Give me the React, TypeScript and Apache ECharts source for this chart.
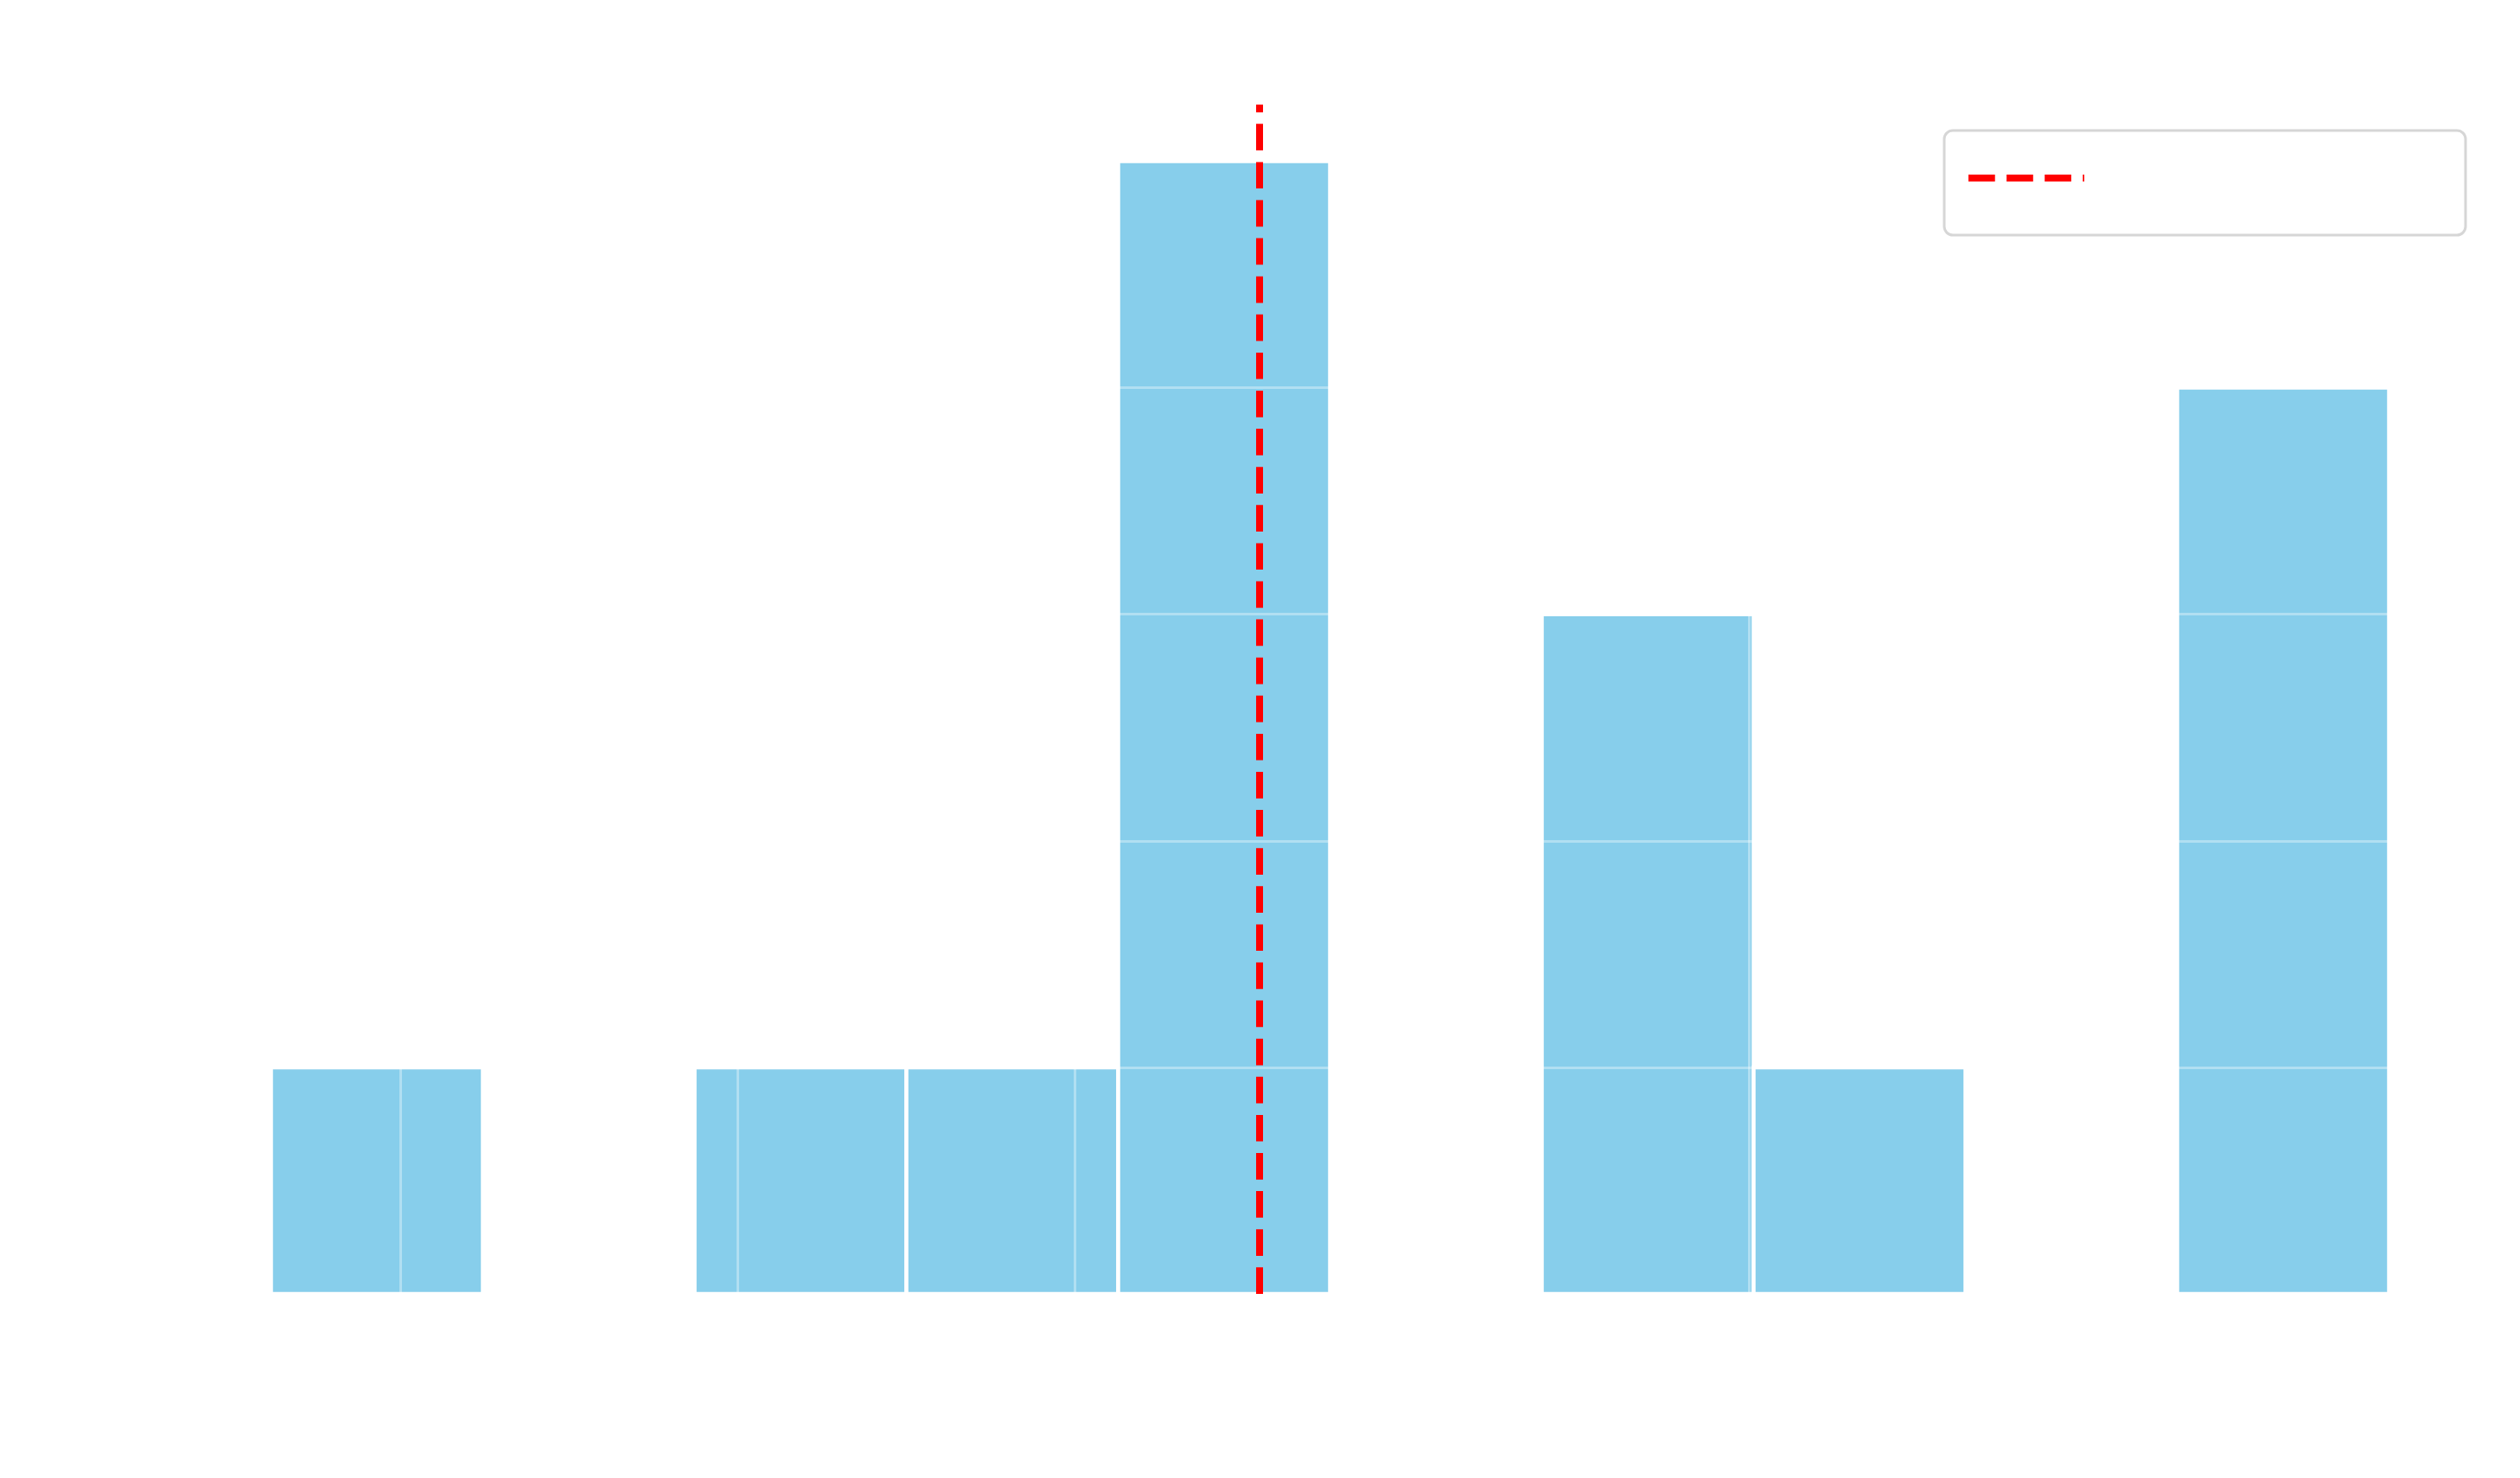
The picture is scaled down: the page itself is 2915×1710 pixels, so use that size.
import React, { useEffect, useRef } from "react";
import * as echarts from "echarts";

// Histogram counts per bin
const counts = [1, 0, 1, 1, 5, 0, 3, 1, 0, 4];
// Bin layout (axis labels are not visible in the reference; scale estimated)
const binStart = 16.164;
const binWidth = 6.283;
// Grid positions
const xTicks = [20, 30, 40, 50, 60, 70, 80];
const yTicks = [1, 2, 3, 4, 5];
// Reference (dashed) line position
const refLineX = 45.49;
const yMax = 5.25;

export default function App() {
  const ref = useRef<HTMLDivElement>(null);

  useEffect(() => {
    document.body.style.margin = "0";
    const chart = echarts.init(ref.current as HTMLDivElement, null, { renderer: "svg" });

    const bins = counts.map((c, i) => [
      binStart + i * binWidth,
      binStart + (i + 1) * binWidth,
      c,
    ]);
    const xMin = binStart - binWidth * 0.5;
    const xMax = binStart + binWidth * (counts.length + 0.5);

    const hiddenAxis = {
      axisLine: { show: false },
      axisTick: { show: false },
      axisLabel: { show: false },
      splitLine: { show: false },
    };

    chart.setOption({
      animation: false,
      backgroundColor: "#ffffff",
      grid: { left: 191, right: 29, top: 121, bottom: 213 },
      xAxis: { type: "value", min: xMin, max: xMax, ...hiddenAxis },
      yAxis: { type: "value", min: 0, max: yMax, ...hiddenAxis },
      series: [
        {
          type: "custom",
          name: "hist",
          z: 2,
          silent: true,
          encode: { x: [0, 1], y: 2 },
          data: bins,
          renderItem: (params: any, api: any) => {
            const c = api.value(2);
            if (!c) return null;
            const tl = api.coord([api.value(0), c]);
            const br = api.coord([api.value(1), 0]);
            return {
              type: "rect",
              shape: { x: tl[0], y: tl[1], width: br[0] - tl[0], height: br[1] - tl[1] },
              style: { fill: "#87CEEB", stroke: "#ffffff", lineWidth: 4.5 },
            };
          },
        },
        {
          type: "line",
          name: "grid",
          z: 4,
          silent: true,
          data: [[xMin, 0]],
          showSymbol: false,
          lineStyle: { opacity: 0 },
          markLine: {
            silent: true,
            symbol: ["none", "none"],
            label: { show: false },
            lineStyle: { color: "rgba(255,255,255,0.35)", width: 3, type: "solid" },
            data: [
              ...xTicks.map((v) => ({ xAxis: v })),
              ...yTicks.map((v) => ({ yAxis: v })),
            ],
          },
        },
        {
          type: "line",
          name: "ref",
          z: 6,
          silent: true,
          data: [[refLineX, 0]],
          showSymbol: false,
          lineStyle: { opacity: 0 },
          markLine: {
            silent: true,
            symbol: ["none", "none"],
            label: { show: false },
            lineStyle: { color: "#ff0000", width: 8, type: [30.7, 13.4] },
            data: [[{ coord: [refLineX, 0] }, { coord: [refLineX, yMax] }]],
          },
        },
      ],
      graphic: [
        {
          type: "rect",
          z: 100,
          shape: { x: 2249, y: 151, width: 603, height: 121, r: 10 },
          style: { fill: "#ffffff", stroke: "#d6d6d6", lineWidth: 3 },
        },
        {
          type: "line",
          z: 101,
          shape: { x1: 2277, y1: 206, x2: 2411, y2: 206 },
          style: { stroke: "#ff0000", lineWidth: 8, lineDash: [30.7, 13.4] },
        },
      ],
    });

    return () => chart.dispose();
  }, []);

  return <div ref={ref} style={{ width: 2915, height: 1710 }} />;
}
